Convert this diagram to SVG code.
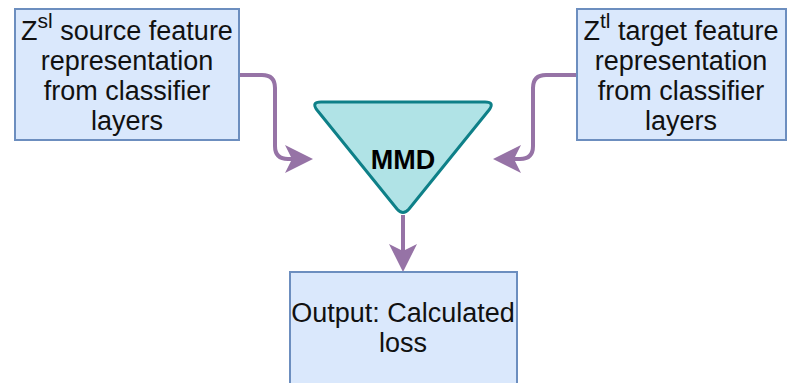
<svg xmlns="http://www.w3.org/2000/svg" width="791" height="383" viewBox="0 0 791 383">
<style>
.box{fill:#dae8fc;stroke:#6c8ebf;stroke-width:2}
.t{font-family:"Liberation Sans",Arial,sans-serif;font-size:27px;fill:#111;text-anchor:middle}
.sup{font-size:21px}
.edge{fill:none;stroke:#9673a6;stroke-width:4}
</style>
<defs>
<marker id="arr" markerUnits="userSpaceOnUse" markerWidth="30" markerHeight="30" refX="8" refY="14" orient="auto" overflow="visible">
<path d="M0,0 L28,14 L0,28 L7,14 Z" fill="#9673a6"/>
</marker>
</defs>
<g id="connectors">
<path class="edge" d="M239 75 H262 Q275 75 275 88 V146 Q275 159 288 159 H293" marker-end="url(#arr)"/>
<path class="edge" d="M577 75 H546 Q533 75 533 88 V146 Q533 159 520 159 H513" marker-end="url(#arr)"/>
<path class="edge" d="M403 215 V252" marker-end="url(#arr)"/>
</g>
<g id="source">
<rect class="box" x="15" y="9" width="224" height="131"/>
<text class="t" x="127" y="40">Z<tspan class="sup" dy="-12">sl</tspan><tspan dy="12"> source feature</tspan></text>
<text class="t" x="127" y="70">representation</text>
<text class="t" x="127" y="100">from classifier</text>
<text class="t" x="127" y="130">layers</text>
</g>
<g id="target">
<rect class="box" x="577" y="9" width="209" height="131"/>
<text class="t" x="681" y="40">Z<tspan class="sup" dy="-12">tl</tspan><tspan dy="12"> target feature</tspan></text>
<text class="t" x="681" y="70">representation</text>
<text class="t" x="681" y="100">from classifier</text>
<text class="t" x="681" y="130">layers</text>
</g>
<g id="mmd">
<path d="M321 102 H485 Q495 102 489 110 L409 209 Q403 216 397 209 L317 110 Q311 102 321 102 Z" fill="#b0e3e6" stroke="#0e8088" stroke-width="3" stroke-linejoin="round"/>
<text x="403" y="169" font-family="'Liberation Sans',Arial,sans-serif" font-size="27" font-weight="bold" text-anchor="middle" fill="#000">MMD</text>
</g>
<g id="output">
<rect class="box" x="290" y="272" width="227" height="125"/>
<text class="t" x="403" y="322">Output: Calculated</text>
<text class="t" x="403" y="352">loss</text>
</g>
</svg>
